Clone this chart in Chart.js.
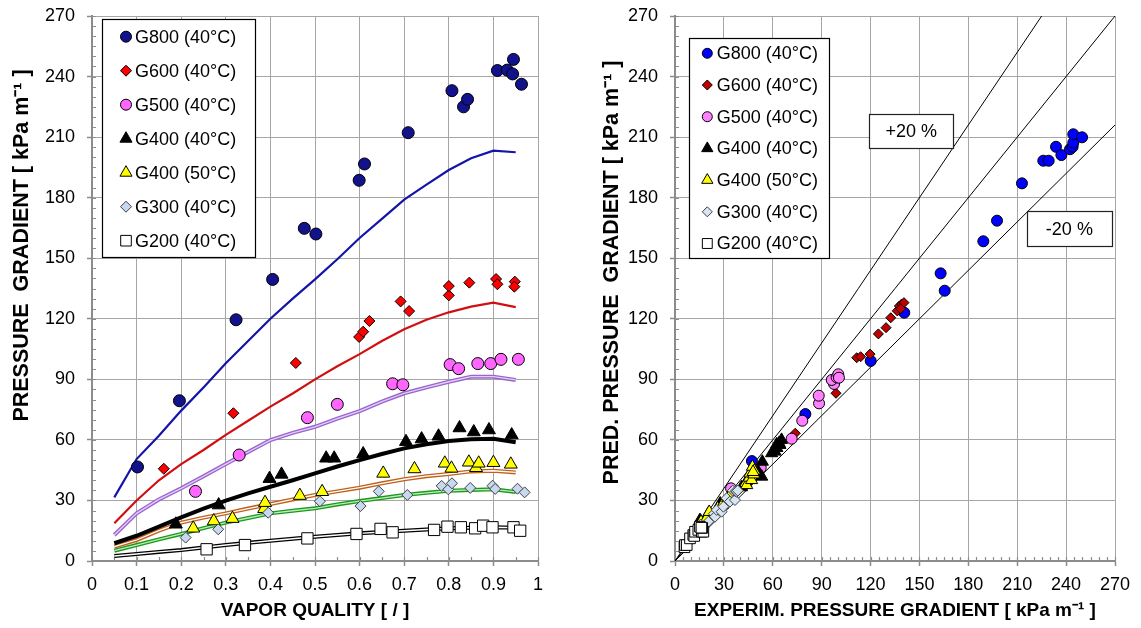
<!DOCTYPE html>
<html><head><meta charset="utf-8">
<script src="https://cdn.jsdelivr.net/npm/chart.js@4.4.0/dist/chart.umd.min.js"></script>
<style>
html,body{margin:0;padding:0;background:#fff;}
#wrap{position:relative;width:1141px;height:628px;overflow:hidden;background:#fff;}
#c1{position:absolute;left:0;top:0;}
#c2{position:absolute;left:580px;top:0;}
</style></head><body>
<div id="wrap"><canvas id="c1" width="570" height="628"></canvas><canvas id="c2" width="561" height="628"></canvas></div>
<script>
// ---------- DATA ----------
const seriesNames = ['G800 (40°C)','G600 (40°C)','G500 (40°C)','G400 (40°C)','G400 (50°C)','G300 (40°C)','G200 (40°C)'];
const qualityTicks = [0,0.1,0.2,0.3,0.4,0.5,0.6,0.7,0.8,0.9,1];
const gradientTicks = [0,30,60,90,120,150,180,210,240,270];

// model curves (left panel), vs vapor quality
const qualityGrid = [0.05,0.1,0.15,0.2,0.25,0.3,0.35,0.4,0.45,0.5,0.55,0.6,0.65,0.7,0.75,0.8,0.85,0.9,0.95];
const modelG800 = [31.5,50.5,62,74.5,86,98,109,120,130,139.5,149.5,160,169.5,179,186.5,193.7,199.5,203.3,202.5];
const modelG600 = [18.7,30,40,48,55,62.5,69.5,76.5,83,90,96.5,102.5,109,114.8,119.5,123.2,126,128,125.8];
const modelG500 = [12.9,23.6,30.5,36,42,48,54,59.9,63.5,66.5,70.5,74.3,79,83.1,86,88.8,91.3,91.3,89.7];
const modelG400 = [8.8,12.5,17,21.6,26,29.9,33.5,36.8,40,43.4,46.8,50,53,55.8,57.8,59.4,60.3,60.6,58.8];
const modelG400h = [7.1,10.4,15,19,21.5,23.6,26,28.2,30.5,32.7,34.5,36.3,38.5,40.5,42,43.1,44.4,44.7,43.9];
const modelG300 = [5.1,7.9,10.7,13.4,16.3,19,21.3,23.6,24.9,26.1,28,29.7,31.2,32.7,33.8,34.8,35.2,35.5,34.2];
const modelG200 = [2.5,3.5,4.5,5.4,6.7,7.9,9,10,11,12,12.9,13.7,14.4,15,15.6,16.2,16.5,16.7,16.5];

// measured points (left panel)
const g800Quality = [0.102,0.196,0.323,0.405,0.476,0.502,0.599,0.611,0.709,0.807,0.833,0.842,0.909,0.931,0.943,0.945,0.963];
const g800Gradient = [46.6,79.4,119.5,139.5,164.8,162,188.6,196.7,212.2,233,225,228.7,243,243.2,241.3,248.5,236.2];
const g600Quality = [0.161,0.317,0.457,0.599,0.608,0.622,0.692,0.711,0.8,0.8,0.846,0.906,0.909,0.948,0.947];
const g600Gradient = [45.7,73.2,98.1,111,113.6,118.9,128.6,123.8,131.6,136.2,137.9,139.7,137.1,138.4,135.9];
const g500Quality = [0.232,0.33,0.483,0.55,0.674,0.697,0.803,0.822,0.865,0.894,0.917,0.956];
const g500Gradient = [34.5,52.5,71,77.6,87.8,87.3,97.3,95.3,97.8,97.8,99.9,99.9];
const g400Quality = [0.188,0.284,0.398,0.425,0.525,0.543,0.608,0.704,0.739,0.777,0.824,0.856,0.89,0.941];
const g400Gradient = [18.2,27.7,40.8,42.9,50.9,50.9,53,59.1,60.4,61.8,65.9,63.9,64.9,62.4];
const g400hQuality = [0.227,0.273,0.315,0.386,0.388,0.466,0.516,0.653,0.723,0.791,0.806,0.845,0.861,0.867,0.9,0.939];
const g400hGradient = [16.2,19.8,21,25.9,28.9,32.4,34.3,43.4,45.6,48.4,45.9,48.9,46.2,48.4,48.7,47.9];
const g300Quality = [0.21,0.283,0.395,0.511,0.602,0.643,0.707,0.784,0.799,0.807,0.848,0.898,0.904,0.954,0.97];
const g300Gradient = [11.6,15.7,23.9,29.6,27.2,34.5,32.7,37.2,35.5,38.5,36.2,37.3,35.7,35.8,34];
const g200Quality = [0.257,0.343,0.483,0.593,0.647,0.674,0.767,0.797,0.827,0.859,0.877,0.898,0.945,0.96];
const g200Gradient = [5.8,7.9,11.2,13.4,15.9,14.2,15.4,17,16.7,16.2,17.5,16.7,16.7,15];

// predicted vs experimental (right panel)
const g800Exp = [47.2,80,120.1,140.7,165.5,163,189.2,197.6,212.9,226,229.3,233.8,237.1,242.4,244,244.4,244.4,249.8];
const g800Pred = [49.5,72.8,99.1,123,133.9,142.5,158.4,168.6,187.1,198.3,198.3,205.2,201.1,204,205.2,207.2,211.4,209.9];
const g600Exp = [45.4,73.8,98.8,111.5,113.9,119.7,124.8,129.5,132.4,136.4,137.7,139.1,140.5,138.5];
const g600Pred = [39.1,63.3,83.1,100.7,101.2,102.5,112.5,115.6,120.5,123.9,126.3,127.3,128,125];
const g500Exp = [34.4,52.6,71.6,78.1,88.4,88.2,97.6,96.2,99.2,100.2,100.6];
const g500Pred = [36,46.2,60.6,69.5,78.1,81.9,87.7,89.7,91,92.5,90.8];
const g400Exp = [15.3,20.5,27.7,40.8,42.9,51.1,53.2,53.6,59.3,61.4,62.5,64.4,65.4,63.9,62.4];
const g400Pred = [20.3,23.6,28.5,36.5,38,44.2,41.8,49.2,53.4,54.2,56,57.5,60,58.5,57.8];
const g400hExp = [16,19.4,21,26.2,28.9,32.4,34.3,43.4,44,45.6,46,47,47.5,48.4,48.7,47.9];
const g400hPred = [19.5,21.2,24.3,26.1,27.7,31.2,33.3,38.6,37.6,41.3,43.4,40.1,46.7,42.9,44.7,44.1];
const g300Exp = [11.6,15.7,20.5,23.9,24.5,25.6,28.6,29.7,31.7,33.7,35.5,36.8,37.2,37.9,38.5];
const g300Pred = [13.9,18,19.5,23.4,21.9,25.3,24.4,26.9,31.1,29.4,34.8,30.2,34.5,34.3,34.9];
const g200Exp = [5.8,6.1,7.2,9.2,11.2,11.8,12.3,14.3,15.3,16.4,17.4,16.7,16.2];
const g200Pred = [6.8,7.9,7.9,11.2,12.9,12.4,14.5,15.4,17,14.5,14.5,16.4,16.5];

// reference lines (right panel): exact, +20 %, -20 %
const lineExactX = [0,270], lineExactY = [0,270];
const linePlus20X = [0,225], linePlus20Y = [0,270];
const lineMinus20X = [0,270], lineMinus20Y = [0,216];
const bandLabels = ['+20 %','-20 %'];

// ---------- HELPERS ----------
const FONT = "'Liberation Sans', Arial, sans-serif";
const pts = (xs, ys) => xs.map((x, i) => ({x, y: ys[i]}));

function markerSet(label, xs, ys, style, r, fill, stroke, order) {
  return {label, data: pts(xs, ys), pointStyle: style, pointRadius: r, pointHoverRadius: r,
    backgroundColor: fill, borderColor: stroke, pointBackgroundColor: fill, pointBorderColor: stroke,
    pointBorderWidth: 1, showLine: false, order, clip: false, isMarker: true};
}
function lineSet(xs, ys, color, width, order) {
  return {label: '', data: pts(xs, ys), showLine: true, pointRadius: 0, pointHoverRadius: 0,
    borderColor: color, backgroundColor: color, borderWidth: width, fill: false, tension: 0, order, isMarker: false};
}

function drawShape(ctx, style, r, x, y, fill, stroke, bw) {
  ctx.save();
  ctx.fillStyle = fill; ctx.strokeStyle = stroke; ctx.lineWidth = bw;
  if (Chart.helpers && Chart.helpers.drawPoint) {
    Chart.helpers.drawPoint(ctx, {pointStyle: style, radius: r, rotation: 0, borderWidth: bw}, x, y);
  } else {
    ctx.beginPath();
    if (style === 'circle') ctx.arc(x, y, r, 0, Math.PI * 2);
    else if (style === 'rectRot') { ctx.moveTo(x - r, y); ctx.lineTo(x, y - r); ctx.lineTo(x + r, y); ctx.lineTo(x, y + r); ctx.closePath(); }
    else if (style === 'triangle') { ctx.moveTo(x, y - r); ctx.lineTo(x + r * 0.866, y + r / 2); ctx.lineTo(x - r * 0.866, y + r / 2); ctx.closePath(); }
    else { const s = r * Math.SQRT1_2; ctx.rect(x - s, y - s, 2 * s, 2 * s); }
    ctx.fill(); ctx.stroke();
  }
  ctx.restore();
}

const minorTicks = {
  id: 'minorTicks',
  beforeDatasetsDraw(chart, args, o) {
    const {ctx, chartArea: a, scales: {x, y}} = chart;
    ctx.save(); ctx.strokeStyle = '#8c8c8c'; ctx.lineWidth = 1.2;
    ctx.beginPath();
    for (let v = x.min; v <= x.max + 1e-9; v += o.xStep) {
      const px = Math.round(x.getPixelForValue(v)) + 0.5;
      ctx.moveTo(px, a.bottom); ctx.lineTo(px, a.bottom - o.len);
    }
    for (let v = y.min; v <= y.max + 1e-9; v += o.yStep) {
      const py = Math.round(y.getPixelForValue(v)) + 0.5;
      ctx.moveTo(a.left, py); ctx.lineTo(a.left + o.len, py);
    }
    ctx.stroke(); ctx.restore();
  }
};

const boxLegend = {
  id: 'boxLegend',
  afterDatasetsDraw(chart, args, o) {
    const ctx = chart.ctx;
    const [x1, y1, x2, y2] = o.box;
    ctx.save();
    ctx.fillStyle = '#fff'; ctx.fillRect(x1, y1, x2 - x1, y2 - y1);
    ctx.strokeStyle = '#000'; ctx.lineWidth = 1.2; ctx.strokeRect(x1 + 0.5, y1 + 0.5, x2 - x1, y2 - y1);
    const ds = chart.data.datasets.filter(d => d.isMarker);
    ds.forEach((d, i) => {
      const yy = o.rowY + i * o.rowStep;
      drawShape(ctx, d.pointStyle, o.radii[i], o.markerX, yy, d.backgroundColor, d.borderColor, 1);
      ctx.fillStyle = '#000'; ctx.font = '18px ' + FONT; ctx.textAlign = 'left'; ctx.textBaseline = 'middle';
      ctx.fillText(d.label, o.textX, yy + 1);
    });
    ctx.restore();
  }
};

const titleShift = {
  id: 'titleShift',
  afterUpdate(chart, args, o) {
    const s = chart.scales.y;
    if (!s || s._shiftInstalled) return;
    const orig = s.drawTitle;
    s.drawTitle = function () { const c = this.ctx; c.save(); c.translate(0, o.dy || 0); orig.call(this); c.restore(); };
    s._shiftInstalled = true;
  }
};

const bandBoxes = {
  id: 'bandBoxes',
  afterDatasetsDraw(chart, args, o) {
    if (!o.items) return;
    const {ctx, scales: {x, y}} = chart;
    ctx.save();
    o.items.forEach(it => {
      const cx = x.getPixelForValue(it.x), cy = y.getPixelForValue(it.y);
      const l = Math.round(cx - it.w / 2) + 0.5, t = Math.round(cy - it.h / 2) + 0.5;
      ctx.fillStyle = '#fff'; ctx.fillRect(l, t, it.w, it.h);
      ctx.strokeStyle = '#222'; ctx.lineWidth = 1.2; ctx.strokeRect(l, t, it.w, it.h);
      ctx.fillStyle = '#000'; ctx.font = '18px ' + FONT; ctx.textAlign = 'center'; ctx.textBaseline = 'middle';
      ctx.fillText(it.text, cx, cy + 1);
    });
    ctx.restore();
  }
};

function axisCommon() {
  return {
    grid: {color: '#a6a6a6', lineWidth: 1, tickLength: 5, tickColor: '#8c8c8c', tickWidth: 1.5},
    border: {color: '#8c8c8c', width: 2}
  };
}
function xAxis(min, max, ticksArr, title, height) {
  return Object.assign(axisCommon(), {
    type: 'linear', min, max,
    afterBuildTicks(s) { s.ticks = ticksArr.map(v => ({value: v})); },
    ticks: {color: '#000', font: {family: FONT, size: 18}, padding: 8, maxRotation: 0, autoSkip: false,
      callback: v => String(v)},
    title: {display: true, text: title, color: '#000', font: {family: FONT, size: 19, weight: 'bold'}, padding: {top: 0, bottom: 6}},
    afterFit(s) { s.height = height; s.paddingLeft = 0; s.paddingRight = 0; }
  });
}
function yAxis(title, width, titlePad) {
  return Object.assign(axisCommon(), {
    type: 'linear', min: 0, max: 270,
    afterBuildTicks(s) { s.ticks = gradientTicks.map(v => ({value: v})); },
    ticks: {color: '#000', font: {family: FONT, size: 18}, padding: 12, autoSkip: false, callback: v => String(v)},
    title: {display: true, text: title, color: '#000', font: {family: FONT, size: 21.5, weight: 'bold'}, padding: {top: titlePad, bottom: 0}},
    afterFit(s) { s.width = width; s.paddingTop = 0; s.paddingBottom = 0; }
  });
}

// ---------- LEFT CHART ----------
const leftDatasets = [
  markerSet(seriesNames[0], g800Quality, g800Gradient, 'circle', 6, '#12128c', '#000', 7),
  markerSet(seriesNames[1], g600Quality, g600Gradient, 'rectRot', 5.5, '#ff0000', '#000', 6),
  markerSet(seriesNames[2], g500Quality, g500Gradient, 'circle', 6, '#ff66ff', '#000', 5),
  markerSet(seriesNames[3], g400Quality, g400Gradient, 'triangle', 7.5, '#000000', '#000', 4),
  markerSet(seriesNames[4], g400hQuality, g400hGradient, 'triangle', 7.5, '#ffff00', '#000', 3),
  markerSet(seriesNames[5], g300Quality, g300Gradient, 'rectRot', 5.5, '#c6d9f0', '#404040', 2),
  markerSet(seriesNames[6], g200Quality, g200Gradient, 'rect', 8, '#ffffff', '#000', 1),
  lineSet(qualityGrid, modelG800, '#1414a8', 2.2, 30),
  lineSet(qualityGrid, modelG600, '#d01010', 2.2, 31),
  lineSet(qualityGrid, modelG500, '#9966cc', 4, 32),
  lineSet(qualityGrid, modelG500, '#e6ccff', 1.3, 22),
  lineSet(qualityGrid, modelG400, '#000000', 4, 33),
  lineSet(qualityGrid, modelG400h, '#c0601a', 4, 34),
  lineSet(qualityGrid, modelG400h, '#ffffff', 1.3, 24),
  lineSet(qualityGrid, modelG300, '#1a9a1a', 4, 35),
  lineSet(qualityGrid, modelG300, '#bfeabf', 1.3, 25),
  lineSet(qualityGrid, modelG200, '#000000', 4, 36),
  lineSet(qualityGrid, modelG200, '#ffffff', 1.4, 26)
];

new Chart(document.getElementById('c1'), {
  type: 'scatter',
  data: {datasets: leftDatasets},
  options: {
    responsive: false, animation: false, devicePixelRatio: 1,
    layout: {padding: {left: 0, right: 32, top: 16, bottom: 0}},
    scales: {
      x: xAxis(0, 1, qualityTicks, 'VAPOR QUALITY [ / ]', 67),
      y: yAxis('PRESSURE  GRADIENT [ kPa m⁻¹ ]', 92, 9)
    },
    plugins: {
      legend: {display: false}, tooltip: {enabled: false},
      minorTicks: {xStep: 0.05, yStep: 5, len: 4},
      boxLegend: {box: [102, 19, 255, 257], rowY: 36.7, rowStep: 34, markerX: 126, textX: 135, radii: [5.5, 5.5, 5.5, 7, 7, 5.5, 7.5]},
      titleShift: {dy: -43}
    }
  },
  plugins: [minorTicks, boxLegend, titleShift]
});

// ---------- RIGHT CHART ----------
const rightDatasets = [
  markerSet(seriesNames[0], g800Exp, g800Pred, 'circle', 5.5, '#0000ff', '#000', 7),
  markerSet(seriesNames[1], g600Exp, g600Pred, 'rectRot', 5, '#c00000', '#000', 6),
  markerSet(seriesNames[2], g500Exp, g500Pred, 'circle', 5.5, '#ff80ff', '#000', 5),
  markerSet(seriesNames[3], g400Exp, g400Pred, 'triangle', 7, '#000000', '#000', 4),
  markerSet(seriesNames[4], g400hExp, g400hPred, 'triangle', 7, '#ffff00', '#000', 3),
  markerSet(seriesNames[5], g300Exp, g300Pred, 'rectRot', 5.5, '#d6e4f4', '#404040', 2),
  markerSet(seriesNames[6], g200Exp, g200Pred, 'rect', 7.5, '#ffffff', '#000', 1),
  lineSet(lineExactX, lineExactY, '#000', 1, 40),
  lineSet(linePlus20X, linePlus20Y, '#000', 1, 41),
  lineSet(lineMinus20X, lineMinus20Y, '#000', 1, 42)
];

new Chart(document.getElementById('c2'), {
  type: 'scatter',
  data: {datasets: rightDatasets},
  options: {
    responsive: false, animation: false, devicePixelRatio: 1,
    layout: {padding: {left: 0, right: 26, top: 16, bottom: 0}},
    scales: {
      x: xAxis(0, 270, gradientTicks, 'EXPERIM. PRESSURE GRADIENT [ kPa m⁻¹ ]', 67),
      y: yAxis('PRED. PRESSURE  GRADIENT [ kPa m⁻¹ ]', 95, 19)
    },
    plugins: {
      legend: {display: false}, tooltip: {enabled: false},
      minorTicks: {xStep: 5, yStep: 5, len: 4},
      boxLegend: {box: [109, 38, 249, 258], rowY: 53.3, rowStep: 31.7, markerX: 127.3, textX: 136.7, radii: [5, 5, 5, 6.5, 6.5, 5, 7]},
      titleShift: {dy: -16},
      bandBoxes: {items: [
        {text: bandLabels[0], x: 145, y: 213, w: 84, h: 34},
        {text: bandLabels[1], x: 242, y: 164.5, w: 85, h: 35}
      ]}
    }
  },
  plugins: [minorTicks, boxLegend, titleShift, bandBoxes]
});
</script>
</body></html>
